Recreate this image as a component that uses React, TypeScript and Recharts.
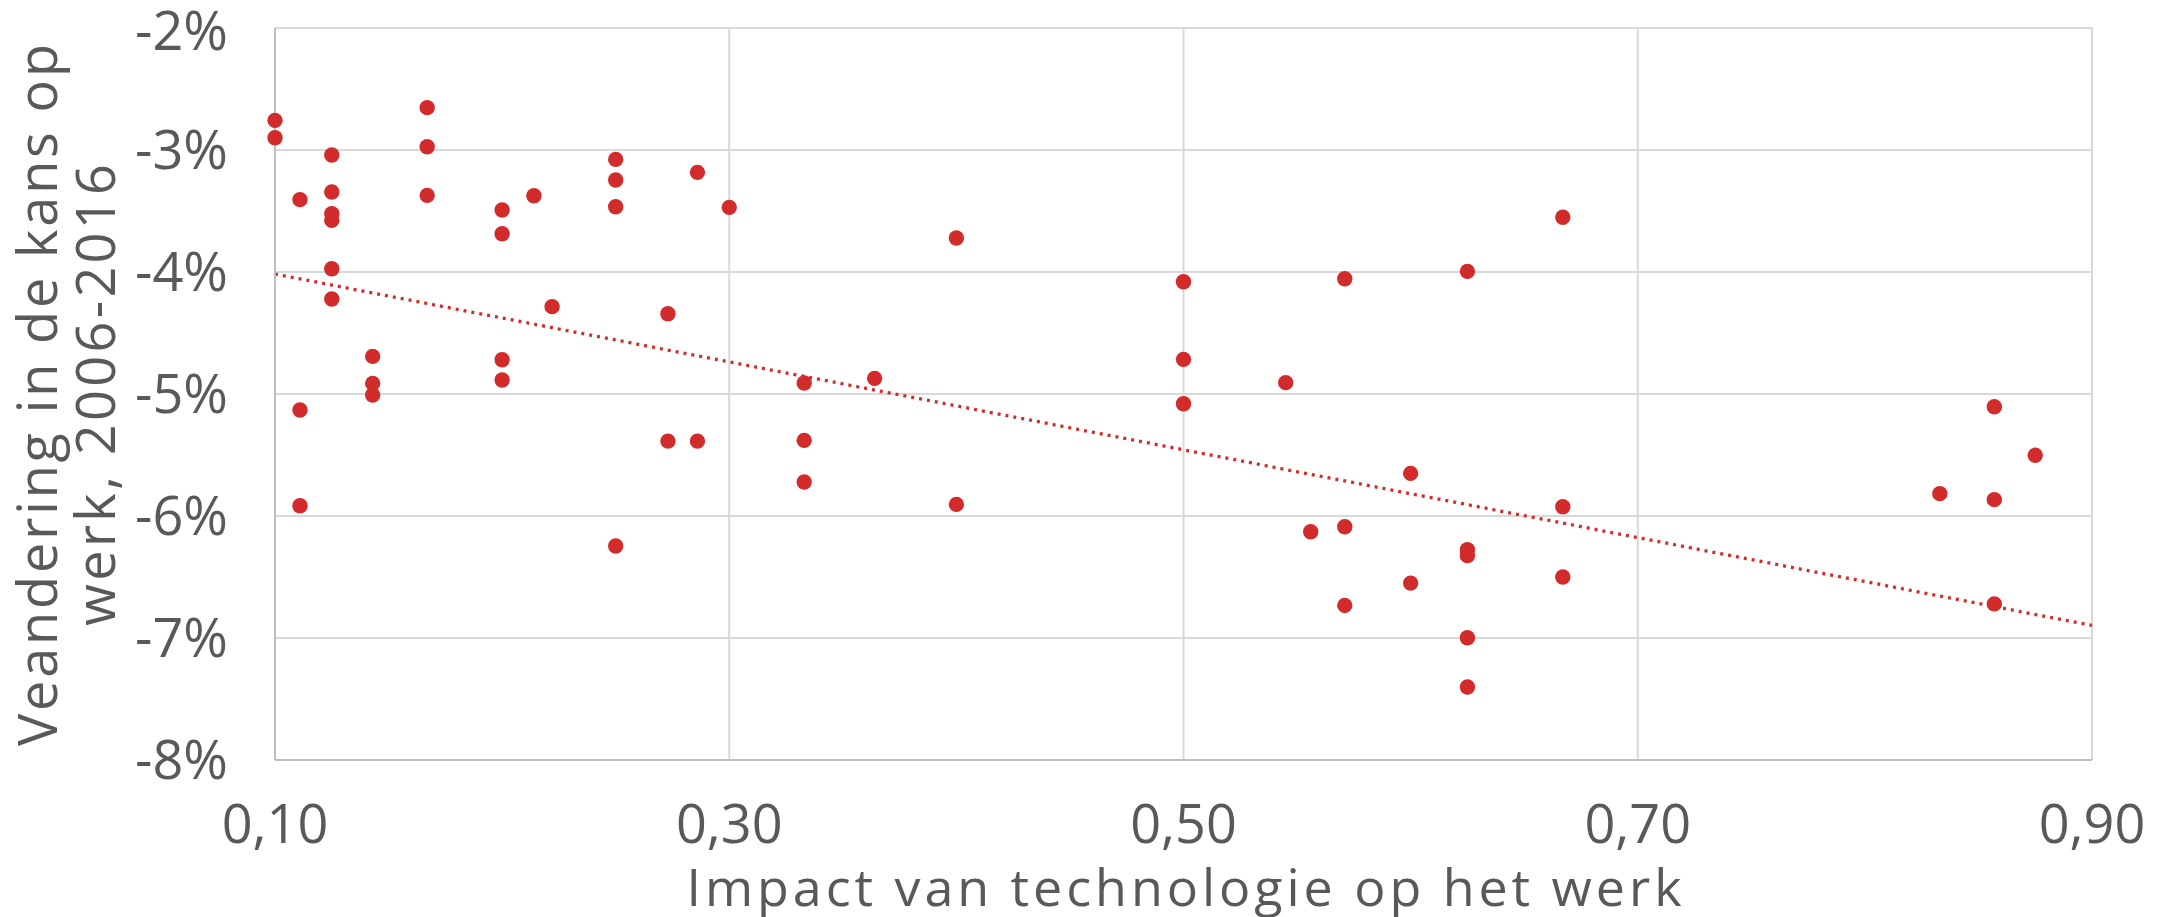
import React from "react"
import { ScatterChart, Scatter, XAxis, YAxis, CartesianGrid, ReferenceLine } from "recharts"

// impact van technologie (x) en verandering in kans op werk in % (y)
const impact = [
  0.1, 0.1, 0.111, 0.111, 0.111, 0.125, 0.125, 0.125, 0.125, 0.125, 0.125,
  0.143, 0.143, 0.143, 0.167, 0.167, 0.167, 0.2, 0.2, 0.2, 0.2, 0.214, 0.222,
  0.25, 0.25, 0.25, 0.25, 0.273, 0.273, 0.286, 0.286, 0.3, 0.333, 0.333, 0.333,
  0.364, 0.4, 0.4, 0.5, 0.5, 0.5, 0.545, 0.556, 0.571, 0.571, 0.571, 0.6, 0.6,
  0.625, 0.625, 0.625, 0.625, 0.625, 0.667, 0.667, 0.667, 0.833, 0.857, 0.857,
  0.857, 0.875,
]
const change = [
  -2.757, -2.9, -3.407, -5.131, -5.916, -3.041, -3.344, -3.522, -3.577, -3.973, -4.221,
  -4.692, -4.913, -5.008, -2.653, -2.973, -3.372, -3.492, -3.686, -4.719, -4.885, -3.375, -4.284,
  -3.077, -3.246, -3.465, -6.246, -4.342, -5.386, -3.183, -5.386, -3.47, -4.91, -5.38, -5.721,
  -4.872, -3.721, -5.905, -4.08, -4.716, -5.08, -4.907, -6.129, -4.055, -6.088, -6.733, -5.651, -6.55,
  -3.995, -6.276, -6.325, -6.998, -7.402, -3.551, -5.924, -6.5, -5.817, -5.104, -5.866,
  -6.72, -5.502,
]

// lineaire trendlijn
const trendX = [0.1, 0.9]
const trendY = [-4.017, -6.897]

const xTicks = [0.1, 0.3, 0.5, 0.7, 0.9]
const yTicks = [-8, -7, -6, -5, -4, -3, -2]

const points = impact.map((x, i) => ({ x, y: change[i] }))

const RED = "#d22b2b"
const TEXT = "#595959"
const FONT = "'Open Sans', sans-serif"

const Dot = (props: any) => <circle cx={props.cx} cy={props.cy} r={7.7} fill={RED} />

export default function App() {
  return (
    <div style={{ width: 2180, height: 917, background: "#fff", position: "relative", overflow: "hidden" }}>
      <style>{`body{margin:0}`}</style>
      <ScatterChart width={2180} height={917} margin={{ top: 28, right: 88, bottom: 0, left: 0 }}>
        <CartesianGrid stroke="#d9d9d9" strokeWidth={2} />
        <XAxis
          type="number"
          dataKey="x"
          domain={[0.1, 0.9]}
          ticks={xTicks}
          height={157}
          tickSize={0}
          tickMargin={45}
          axisLine={{ stroke: "#bfbfbf", strokeWidth: 2 }}
          tickFormatter={(v: number) => v.toFixed(2).replace(".", ",")}
          tick={{ fill: TEXT, fontSize: 54, fontFamily: FONT }}
        />
        <YAxis
          type="number"
          dataKey="y"
          domain={[-8, -2]}
          ticks={yTicks}
          width={275}
          tickSize={0}
          tickMargin={47}
          axisLine={{ stroke: "#bfbfbf", strokeWidth: 2 }}
          tickFormatter={(v: number) => `${v}%`}
          tick={{ fill: TEXT, fontSize: 54, fontFamily: FONT }}
        />
        <ReferenceLine
          segment={[
            { x: trendX[0], y: trendY[0] },
            { x: trendX[1], y: trendY[1] },
          ]}
          stroke={RED}
          strokeWidth={3.3}
          strokeDasharray="3 5"
        />
        <Scatter data={points} fill={RED} shape={Dot} isAnimationActive={false} />
      </ScatterChart>
      <svg
        width={2180}
        height={917}
        style={{ position: "absolute", left: 0, top: 0, pointerEvents: "none" }}
      >
        <text
          transform="translate(57,395) rotate(-90)"
          textAnchor="middle"
          fill={TEXT}
          fontSize={54}
          fontFamily={FONT}
          textLength={702}
          lengthAdjust="spacing"
        >
          Veandering in de kans op
        </text>
        <text
          transform="translate(115,395) rotate(-90)"
          textAnchor="middle"
          fill={TEXT}
          fontSize={54}
          fontFamily={FONT}
          textLength={462}
          lengthAdjust="spacing"
        >
          werk, 2006-2016
        </text>
        <text
          x={1184}
          y={906}
          textAnchor="middle"
          fill={TEXT}
          fontSize={52}
          fontFamily={FONT}
          textLength={995}
          lengthAdjust="spacing"
        >
          Impact van technologie op het werk
        </text>
      </svg>
    </div>
  )
}
